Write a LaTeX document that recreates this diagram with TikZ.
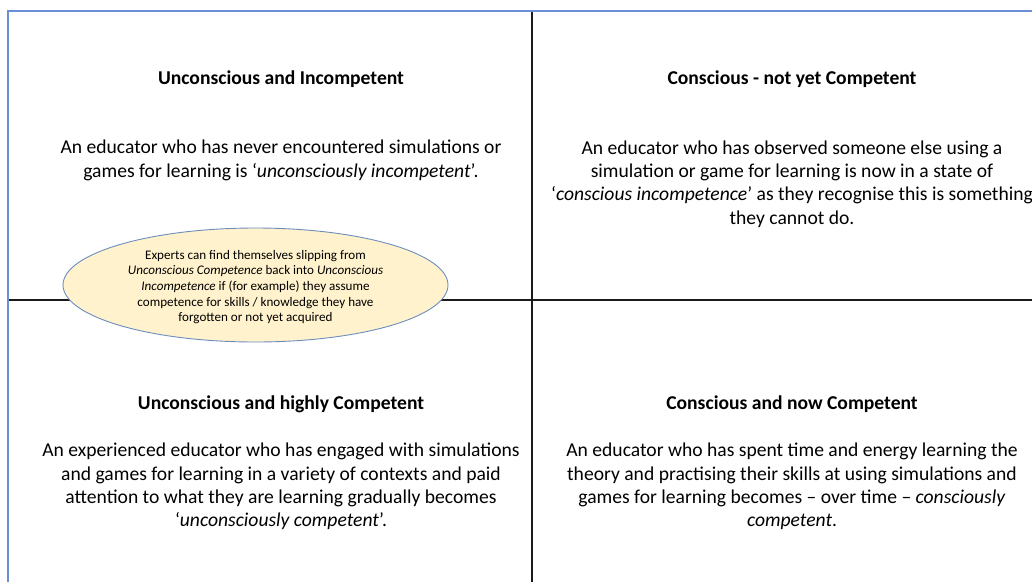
\documentclass[tikz,border=0pt]{standalone}
\usepackage{fontspec}
\setmainfont{Carlito}
\usetikzlibrary{shapes.geometric}
\definecolor{bordblue}{HTML}{6A8FD6}
\definecolor{ellfill}{HTML}{FFF2CC}
\definecolor{elldraw}{HTML}{6C8EBF}
\definecolor{divline}{HTML}{1A1A1A}
\tikzset{
  titletext/.style={font=\fontsize{19.6}{23}\selectfont\bfseries, inner sep=0pt, text=black},
  bodytext/.style={font=\fontsize{19.6}{23.3}\selectfont, align=center, inner sep=0pt, text=black},
  ovaltext/.style={font=\fontsize{13.1}{15.7}\selectfont, align=center, inner sep=0pt, text=black},
  divider/.style={draw=divline, line width=2.2pt},
  frameline/.style={draw=bordblue, line width=1.6pt},
}
\begin{document}
\begin{tikzpicture}[x=1pt,y=-1pt]
\useasboundingbox (0,0) rectangle (1032,581);
\clip (0,0) rectangle (1032,581);
% frame and dividers
\coordinate (fTL) at (8,11);
\coordinate (fTR) at (1034,11);
\coordinate (fBL) at (8,583);
\coordinate (vT) at (532,12);
\coordinate (vB) at (532,583);
\coordinate (hL) at (8,300);
\coordinate (hR) at (1034,300);
\draw[divider] (vT) -- (vB);
\draw[divider] (hL) -- (hR);
\draw[frameline] (fBL) -- (fTL) -- (fTR);
% quadrant texts
\node[titletext] (t1) at (281,79) {Unconscious and Incompetent};
\node[bodytext] (b1) at (281,160.5) {An educator who has never encountered simulations or\\games for learning is ‘\textit{unconsciously incompetent}’.};
\node[titletext] (t2) at (792,79) {Conscious - not yet Competent};
\node[bodytext] (b2) at (792,184) {An educator who has observed someone else using a\\simulation or game for learning is now in a state of\\‘\textit{conscious incompetence}’ as they recognise this is something\\they cannot do.};
\node[titletext] (t3) at (281,404) {Unconscious and highly Competent};
\node[bodytext] (b3) at (281,486.5) {An experienced educator who has engaged with simulations\\and games for learning in a variety of contexts and paid\\attention to what they are learning gradually becomes\\‘\textit{unconsciously competent}’.};
\node[titletext] (t4) at (792,404) {Conscious and now Competent};
\node[bodytext] (b4) at (792,486.5) {An educator who has spent time and energy learning the\\theory and practising their skills at using simulations and\\games for learning becomes – over time – \textit{consciously}\\\textit{competent}.};
% ellipse
\node[ellipse, draw=elldraw, fill=ellfill, line width=0.9pt, minimum width=385pt, minimum height=114pt, inner sep=0pt] (oval) at (255.5,285) {};
\node[ovaltext] (ot) at (255.5,287) {Experts can find themselves slipping from\\\textit{Unconscious Competence} back into \textit{Unconscious}\\\textit{Incompetence} if (for example) they assume\\competence for skills / knowledge they have\\forgotten or not yet acquired};
\end{tikzpicture}
\end{document}
